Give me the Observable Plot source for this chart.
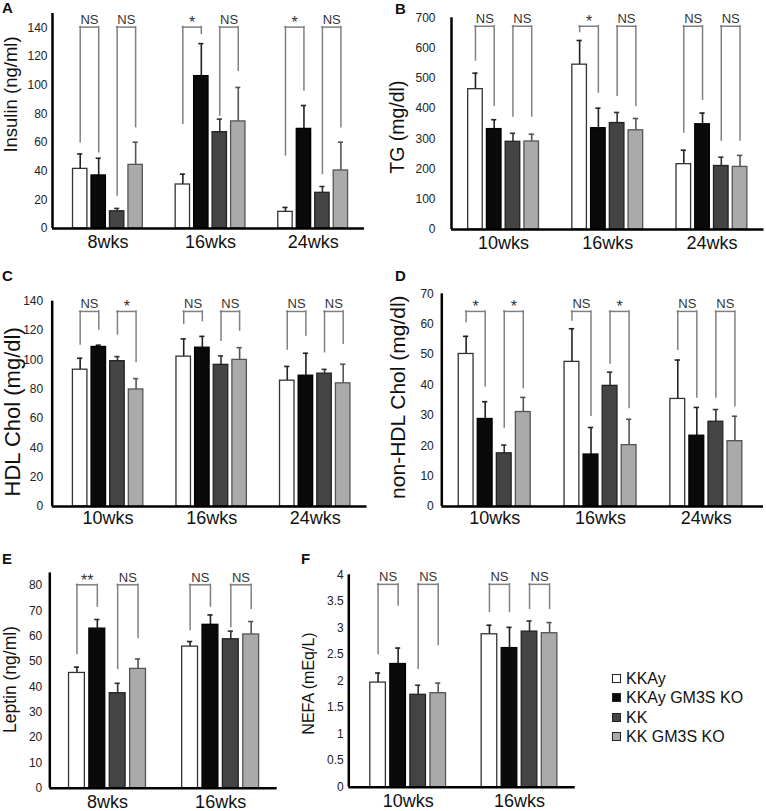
<!DOCTYPE html>
<html><head><meta charset="utf-8">
<script src="https://cdn.jsdelivr.net/npm/d3@7"></script>
<script src="https://cdn.jsdelivr.net/npm/@observablehq/plot@0.6"></script>
<style>
body{margin:0;background:#fff;}
#fig{position:relative;width:766px;height:811px;font-family:"Liberation Sans",Arial,sans-serif;color:#111;overflow:hidden;background:#fff}
.panel{position:absolute}
.letter{position:absolute;font-weight:bold;font-size:15px;line-height:15px;color:#111}
.legend{position:absolute;left:612px;top:669px;font-size:16px;line-height:19.3px}
.legend .row{display:flex;align-items:center;height:19.3px;white-space:nowrap}
.legend .sw{width:7px;height:7px;border:1.6px solid #222;margin-right:5px;flex:none}
</style>
</head><body>
<div id="fig"></div>
<script>
// ---------- data ----------
const series = ["KKAy", "KKAy GM3S KO", "KK", "KK GM3S KO"];

// A: Insulin (ng/ml)
const insulinWeeks = ["8wks", "16wks", "24wks"];
const insulinMean = [[41.6, 37, 12, 44.4], [30.7, 106.3, 67.2, 74.7], [11.6, 69.5, 24.9, 40.5]];
const insulinSE = [[10.4, 12, 2, 15.8], [7.2, 22.7, 9.1, 23.7], [3.1, 16.3, 4.4, 19.7]];
const insulinSig = [["NS", "NS"], ["*", "NS"], ["*", "NS"]];
const insulinFoot = [[60.2, 53.3, 23, 70.7], [73, 135.8, 78.8, 110], [51, 96.3, 38, 70.7]];
const insulinTop = 140.5;
const insulinTicks = [0, 20, 40, 60, 80, 100, 120, 140];

// B: TG (mg/dl)
const tgWeeks = ["10wks", "16wks", "24wks"];
const tgMean = [[464, 332, 290, 291], [545, 335, 352, 328], [216, 348, 210, 207]];
const tgSE = [[53, 31, 28, 24], [80, 66, 35, 39], [46, 37, 29, 38]];
const tgSig = [["NS", "NS"], ["*", "NS"], ["NS", "NS"]];
const tgFoot = [[559, 409, 374, 374], [653, 453, 442, 409], [321, 429, 294, 294]];
const tgTop = 672;
const tgTicks = [0, 100, 200, 300, 400, 500, 600, 700];

// C: HDL Chol (mg/dl)
const hdlWeeks = ["10wks", "16wks", "24wks"];
const hdlMean = [[93.3, 108.8, 99.1, 79.8], [102.2, 108.3, 96.6, 100], [85.8, 89.2, 90.6, 84]];
const hdlSE = [[7.8, 1.2, 3.1, 7.4], [12.1, 7.7, 6.1, 8.3], [9.7, 15.3, 2.9, 13]];
const hdlSig = [["NS", "*"], ["NS", "NS"], ["NS", "NS"]];
const hdlFoot = [[110.5, 120.7, 117.3, 98.5], [124.5, 126.4, 113, 120], [107, 116.6, 105.2, 111]];
const hdlTop = 133;
const hdlTicks = [0, 20, 40, 60, 80, 100, 120, 140];

// D: non-HDL Chol (mg/dl)
const nonHdlWeeks = ["10wks", "16wks", "24wks"];
const nonHdlMean = [[50.2, 28.8, 17.5, 31.1], [47.6, 17.1, 39.7, 20.2], [35.4, 23.3, 27.9, 21.5]];
const nonHdlSE = [[5.8, 5.7, 2.7, 4.8], [10.9, 8.9, 4.5, 8.5], [12.8, 9.3, 4, 8.2]];
const nonHdlSig = [["*", "*"], ["NS", "*"], ["NS", "NS"]];
const nonHdlFoot = [[60.7, 39.5, 26, 39], [61.2, 29.9, 47.1, 32.4], [51.6, 35.9, 35.9, 33]];
const nonHdlTop = 64.2;
const nonHdlTicks = [0, 10, 20, 30, 40, 50, 60, 70];

// E: Leptin (ng/ml)
const leptinWeeks = ["8wks", "16wks"];
const leptinMean = [[45.5, 63, 37.5, 47.1], [55.9, 64.5, 58.8, 60.7]];
const leptinSE = [[2.3, 3.6, 3.9, 3.9], [2.0, 3.9, 3.2, 5.1]];
const leptinSig = [["**", "NS"], ["NS", "NS"]];
const leptinFoot = [[53, 71.7, 47.1, 59.3], [62.5, 71.7, 63.6, 70.8]];
const leptinTop = 80.3;
const leptinTicks = [0, 10, 20, 30, 40, 50, 60, 70, 80];

// F: NEFA (mEq/L)
const nefaWeeks = ["10wks", "16wks"];
const nefaMean = [[1.97, 2.32, 1.74, 1.77], [2.88, 2.62, 2.93, 2.9]];
const nefaSE = [[0.18, 0.3, 0.18, 0.19], [0.17, 0.39, 0.2, 0.2]];
const nefaSig = [["NS", "NS"], ["NS", "NS"]];
const nefaFoot = [[2.51, 3.42, 2.23, 2.68], [3.3, 3.3, 3.36, 3.36]];
const nefaTop = 3.82;
const nefaTicks = [0, 0.5, 1, 1.5, 2, 2.5, 3, 3.5, 4];

// ---------- styles ----------
const barFill = ["#ffffff", "#0a0a0a", "#444444", "#aaaaaa"];
const barStroke = ["#333333", "#000000", "#222222", "#555555"];
const errColor = ["#222222", "#222222", "#333333", "#555555"];
const bracketColor = "#808080";
const FONT = "'Liberation Sans', Arial, sans-serif";
const OFF = 0.23, STEP = 0.18, HALF = 0.07;

const fig = document.getElementById("fig");

function panel(cfg) {
  const {weeks, mean, se, sig, foot, top} = cfg;
  const n = weeks.length;
  const rows = weeks.flatMap((w, g) => series.map((s, k) => ({g, k, mean: mean[g][k], se: se[g][k], foot: foot[g][k]})));
  const pairs = weeks.flatMap((w, g) => sig[g].map((label, p) => ({g, p, label})));
  const cx = d => d.g + OFF + STEP * d.k;
  const px1 = d => d.g + OFF + STEP * 2 * d.p;
  const px2 = d => px1(d) + STEP;
  const pm = d => px1(d) + STEP / 2;
  const xDomain = [-cfg.gapL, n + cfg.gapR];
  const marks = [];
  series.forEach((s, k) => {
    const sub = rows.filter(d => d.k === k);
    marks.push(Plot.ruleX(sub, {x: cx, y1: "mean", y2: d => d.mean + d.se, stroke: errColor[k], strokeWidth: 1.6}));
    marks.push(Plot.ruleY(sub, {y: d => d.mean + d.se, x1: d => cx(d) - cfg.cap, x2: d => cx(d) + cfg.cap, stroke: errColor[k], strokeWidth: 1.6}));
    marks.push(Plot.rectY(sub, {x1: d => cx(d) - HALF, x2: d => cx(d) + HALF, y1: 0, y2: "mean", fill: barFill[k], stroke: barStroke[k], strokeWidth: 1.3}));
  });
  marks.push(Plot.ruleX(rows, {x: cx, y1: "foot", y2: () => top, stroke: bracketColor, strokeWidth: 1.5, strokeLinecap: "square"}));
  marks.push(Plot.ruleY(pairs, {y: () => top, x1: px1, x2: px2, stroke: bracketColor, strokeWidth: 1.5, strokeLinecap: "square"}));
  marks.push(Plot.text(pairs.filter(d => d.label === "NS"), {x: pm, y: () => top, text: "label", dy: -3, lineAnchor: "bottom", textAnchor: "middle", fontSize: 13, fill: "#333"}));
  marks.push(Plot.text(pairs.filter(d => d.label !== "NS"), {x: pm, y: () => top, text: "label", dy: 1, lineAnchor: "bottom", textAnchor: "middle", fontSize: 16, fill: "#333"}));
  marks.push(Plot.ruleX([xDomain[0]], {stroke: "#000", strokeWidth: 2.5}));
  marks.push(Plot.ruleY([0], {stroke: "#000", strokeWidth: 2.5}));
  marks.push(Plot.text(weeks, {x: (d, i) => i + 0.5, text: d => d, frameAnchor: "bottom", lineAnchor: "middle", textAnchor: "middle", dy: cfg.catDy, fontSize: 18, fill: "#111"}));
  marks.push(Plot.text([cfg.yLabel], {text: d => d, frameAnchor: "left", textAnchor: "middle", lineAnchor: "middle", rotate: -90, dx: cfg.labelDx, dy: cfg.labelDy, fontSize: cfg.labelSize, fill: "#111"}));

  const svg = Plot.plot({
    width: cfg.width, height: cfg.height,
    marginLeft: cfg.ml, marginRight: cfg.mr, marginTop: cfg.mt, marginBottom: cfg.mb,
    style: {fontFamily: FONT, fontSize: "12px", color: "#222", background: "transparent", overflow: "visible"},
    x: {domain: xDomain, axis: null},
    y: {domain: cfg.yDomain, ticks: cfg.yTicks, tickSize: 0, tickPadding: cfg.tickPad, label: null, tickFormat: d => String(d)},
    marks
  });
  const wrap = document.createElement("div");
  wrap.className = "panel";
  wrap.style.left = cfg.left + "px";
  wrap.style.top = cfg.top0 + "px";
  wrap.appendChild(svg);
  fig.appendChild(wrap);
}

panel({weeks: insulinWeeks, mean: insulinMean, se: insulinSE, sig: insulinSig, foot: insulinFoot, top: insulinTop,
  yLabel: "Insulin (ng/ml)", yDomain: [0, 150], yTicks: insulinTicks, labelSize: 18.5,
  left: 0, top0: 0, width: 383, height: 260, ml: 52, mr: 19, mt: 13, mb: 32, gapL: 0.04, gapR: 0, cap: 0.025,
  tickPad: 5, catDy: 14, labelDx: -41, labelDy: -26.5});

panel({weeks: tgWeeks, mean: tgMean, se: tgSE, sig: tgSig, foot: tgFoot, top: tgTop,
  yLabel: "TG (mg/dl)", yDomain: [0, 700], yTicks: tgTicks, labelSize: 19.5,
  left: 383, top0: 0, width: 383, height: 260, ml: 68, mr: 2.5, mt: 17.3, mb: 31, gapL: 0, gapR: 0, cap: 0.025,
  tickPad: 16, catDy: 13.5, labelDx: -54, labelDy: 3.5});

panel({weeks: hdlWeeks, mean: hdlMean, se: hdlSE, sig: hdlSig, foot: hdlFoot, top: hdlTop,
  yLabel: "HDL Chol (mg/dl)", yDomain: [0, 140], yTicks: hdlTicks, labelSize: 22,
  left: 0, top0: 260, width: 383, height: 270, ml: 51.7, mr: 16.5, mt: 40.7, mb: 24, gapL: 0.04, gapR: 0, cap: 0.025,
  tickPad: 9, catDy: 11.5, labelDx: -39, labelDy: 8});

panel({weeks: nonHdlWeeks, mean: nonHdlMean, se: nonHdlSE, sig: nonHdlSig, foot: nonHdlFoot, top: nonHdlTop,
  yLabel: "non-HDL Chol (mg/dl)", yDomain: [0, 70], yTicks: nonHdlTicks, labelSize: 21,
  left: 383, top0: 260, width: 383, height: 270, ml: 58.3, mr: 3, mt: 33.3, mb: 24, gapL: 0, gapR: 0.04, cap: 0.025,
  tickPad: 8, catDy: 11.5, labelDx: -44, labelDy: -3});

panel({weeks: leptinWeeks, mean: leptinMean, se: leptinSE, sig: leptinSig, foot: leptinFoot, top: leptinTop,
  yLabel: "Leptin (ng/ml)", yDomain: [0, 85], yTicks: leptinTicks, labelSize: 17.5,
  left: 0, top0: 530, width: 290, height: 281, ml: 49.3, mr: 13.3, mt: 42.4, mb: 23.3, gapL: 0.01, gapR: 0, cap: 0.023,
  tickPad: 7.5, catDy: 14, labelDx: -39, labelDy: -1});

panel({weeks: nefaWeeks, mean: nefaMean, se: nefaSE, sig: nefaSig, foot: nefaFoot, top: nefaTop,
  yLabel: "NEFA (mEq/L)", yDomain: [0, 4], yTicks: nefaTicks, labelSize: 16,
  left: 290, top0: 530, width: 300, height: 281, ml: 58.3, mr: 15.3, mt: 44.3, mb: 24.3, gapL: 0.033, gapR: 0, cap: 0.023,
  tickPad: 5, catDy: 14, labelDx: -40, labelDy: 2.5});

// panel letters
[["A", 2, 0], ["B", 395, 1], ["C", 2, 268], ["D", 395, 268], ["E", 2, 551], ["F", 301, 551]].forEach(([t, x, y]) => {
  const el = document.createElement("div");
  el.className = "letter";
  el.style.left = x + "px";
  el.style.top = y + "px";
  el.textContent = t;
  fig.appendChild(el);
});

// legend
const leg = document.createElement("div");
leg.className = "legend";
series.forEach((s, k) => {
  const row = document.createElement("div");
  row.className = "row";
  const sw = document.createElement("span");
  sw.className = "sw";
  sw.style.background = barFill[k];
  const tx = document.createElement("span");
  tx.textContent = s;
  row.appendChild(sw);
  row.appendChild(tx);
  leg.appendChild(row);
});
fig.appendChild(leg);
</script>
</body></html>
